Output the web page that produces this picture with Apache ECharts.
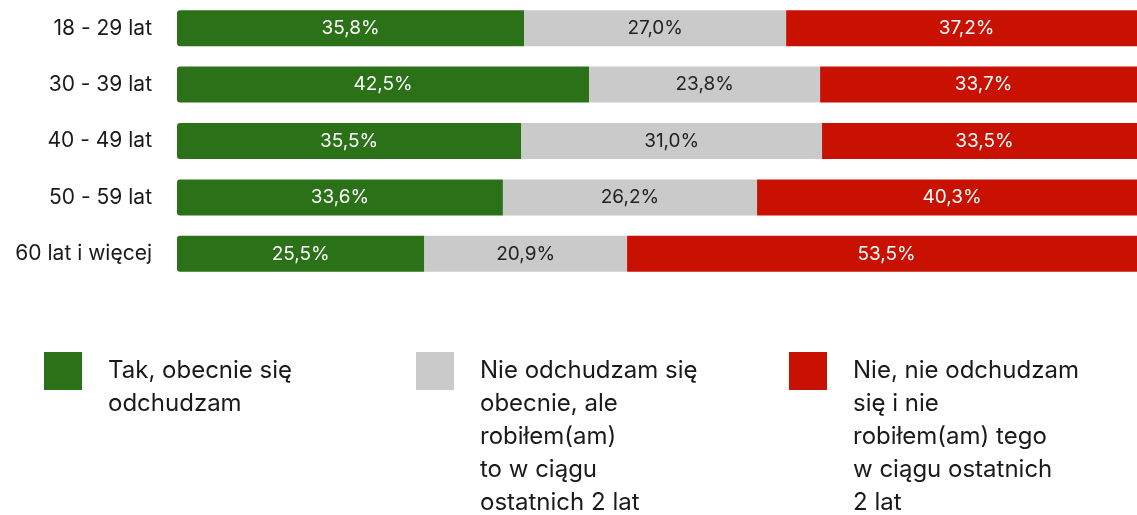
<!DOCTYPE html>
<html>
<head>
<meta charset="utf-8">
<script src="https://cdn.jsdelivr.net/npm/echarts@6/dist/echarts.min.js"></script>
<style>
  html, body { margin: 0; padding: 0; background: #fff; }
  #chart { width: 1137px; height: 515px; }
</style>
</head>
<body>
<div id="chart"></div>
<script>
// grupy wiekowe
const categories = ['18 - 29 lat', '30 - 39 lat', '40 - 49 lat', '50 - 59 lat', '60 lat i więcej']
const seriesNames = ['Tak', 'Nie teraz', 'Nie']
const legendLines = [
  ['Tak, obecnie się', 'odchudzam'],
  ['Nie odchudzam się', 'obecnie, ale', 'robiłem(am)', 'to w ciągu', 'ostatnich 2 lat'],
  ['Nie, nie odchudzam', 'się i nie', 'robiłem(am) tego', 'w ciągu ostatnich', '2 lat']
]
const takValues = [35.8, 42.5, 35.5, 33.6, 25.5]
const nieTerazValues = [27.0, 23.8, 31.0, 26.2, 20.9]
const nieValues = [37.2, 33.7, 33.5, 40.3, 53.5]

const colors = ['#2a7117', '#cacaca', '#c81100']
const labelColors = ['#ffffff', '#222222', '#ffffff']
const lineHeight = 33
const iconSize = 38
const font = 'Inter, "Noto Sans", sans-serif'

const chart = echarts.init(document.getElementById('chart'))

const values = [takValues, nieTerazValues, nieValues]
const radii = [[3, 0, 0, 3], 0, [0, 3, 3, 0]]
const series = values.map((data, i) => ({
  name: seriesNames[i],
  type: 'bar',
  stack: 'total',
  barWidth: 36,
  data: data,
  itemStyle: { color: colors[i], borderRadius: radii[i] },
  label: {
    show: true,
    position: 'inside',
    color: labelColors[i],
    fontFamily: font,
    fontSize: 19,
    formatter: p => p.value.toFixed(1).replace('.', ',') + '%'
  },
  emphasis: { disabled: true }
}))

// legenda: tekst wyrównany do górnej krawędzi kwadratu
// (puste linie nad tekstem, bo legenda centruje tekst na ikonie)
const legendLeft = [44, 416, 789]
const legendIconTop = 352
const legends = seriesNames.map((name, i) => {
  const n = legendLines[i].length
  const blank = new Array(n - 1).fill('')
  const boxTop = iconSize / 2 - (2 * n - 1) * lineHeight / 2
  return {
    left: legendLeft[i],
    top: legendIconTop + boxTop,
    padding: 0,
    itemWidth: iconSize,
    itemHeight: iconSize,
    icon: 'rect',
    selectedMode: false,
    data: [name],
    formatter: () => blank.concat(legendLines[i]).join('\n'),
    textStyle: {
      fontFamily: font,
      fontSize: 24,
      color: '#1a1a1a',
      lineHeight: lineHeight,
      padding: [0, 0, 0, 21]
    }
  }
})

chart.setOption({
  animation: false,
  // pasek wychodzi poza prawą krawędź obrazka
  grid: { left: 177, top: 0, width: 970, height: 282, outerBoundsMode: 'none' },
  legend: legends,
  xAxis: {
    type: 'value',
    min: 0,
    max: 100,
    show: false
  },
  yAxis: {
    type: 'category',
    inverse: true,
    data: categories,
    axisLine: { show: false },
    axisTick: { show: false },
    axisLabel: {
      margin: 25,
      color: '#1a1a1a',
      fontFamily: font,
      fontSize: 21
    }
  },
  series: series
})
</script>
</body>
</html>
